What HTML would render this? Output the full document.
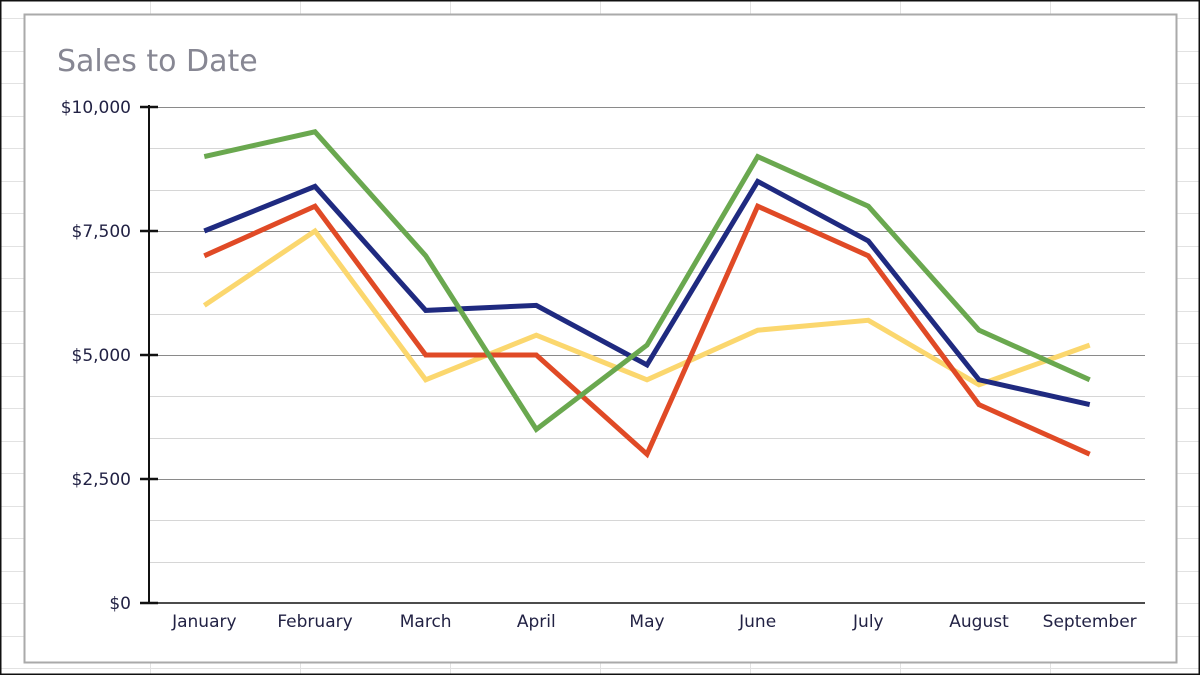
<!DOCTYPE html>
<html><head><meta charset="utf-8"><style>
html,body{margin:0;padding:0;background:#fff}
svg{display:block;font-family:"DejaVu Sans","Liberation Sans",sans-serif}
</style></head><body>
<svg id="s" width="1200" height="675" viewBox="0 0 1200 675" xmlns="http://www.w3.org/2000/svg">
<rect x="0" y="0" width="1200" height="675" fill="#fff"/>
<g id="bg" stroke="#e2e2e2" stroke-width="1"></g>
<rect x="0.5" y="0.5" width="1199" height="674" fill="none" stroke="#111" stroke-width="2"/>
<rect x="24.5" y="14.5" width="1152" height="648" fill="#fff" stroke="#aaa" stroke-width="2"/>
<text x="57" y="71" font-size="30" fill="#878793">Sales to Date</text>
<g id="grid"></g>
<g id="lines" fill="none" stroke-width="5" stroke-linejoin="miter"></g>
<g id="labels" font-size="17" fill="#222244"></g>
</svg>
<script>
var NS="http://www.w3.org/2000/svg";
function el(p,t,a,txt){var e=document.createElementNS(NS,t);for(var k in a)e.setAttribute(k,a[k]);if(txt)e.textContent=txt;p.appendChild(e);return e;}
var bg=document.getElementById('bg');
[150,300,450,600,750,900,1050].forEach(function(x){el(bg,'line',{x1:x+.5,y1:0,x2:x+.5,y2:675});});
for(var y=18;y<675;y+=32.5){el(bg,'line',{x1:0,y1:Math.round(y)+.5,x2:1200,y2:Math.round(y)+.5});}
var g=document.getElementById('grid'),L=document.getElementById('labels');
var X0=149,X1=1145,Y0=603,Ytop=107;
function Y(v){return Y0-(v/10000)*(Y0-Ytop);}
for(var k=1;k<=12;k++){var v=k*10000/12;var yy=Math.round(Y(v))+.5;el(g,'line',{x1:X0,y1:yy,x2:X1,y2:yy,stroke:(k%3==0)?'#8a8a8a':'#d6d6d6','stroke-width':1});}
el(g,'line',{x1:X0,y1:Ytop-2,x2:X0,y2:Y0+1,stroke:'#111','stroke-width':2});
el(g,'line',{x1:X0,y1:Y0,x2:X1,y2:Y0,stroke:'#111','stroke-width':1.5});
[0,2500,5000,7500,10000].forEach(function(v){var yy=Y(v);el(g,'line',{x1:140,y1:yy,x2:158,y2:yy,stroke:'#111','stroke-width':2.5});
el(L,'text',{x:131,y:yy+6,'text-anchor':'end'},'$'+v.toLocaleString('en-US'));});
var months=['January','February','March','April','May','June','July','August','September'];
var step=(X1-X0)/9;function X(i){return X0+step*(i+.5);}
months.forEach(function(m,i){el(L,'text',{x:X(i),y:627,'text-anchor':'middle'},m);});
var series=[
['#fbd76e',[6000,7500,4500,5400,4500,5500,5700,4400,5200]],
['#e04a26',[7000,8000,5000,5000,3000,8000,7000,4000,3000]],
['#1f2a80',[7500,8400,5900,6000,4800,8500,7300,4500,4000]],
['#6aa84f',[9000,9500,7000,3500,5200,9000,8000,5500,4500]]];
var ln=document.getElementById('lines');
series.forEach(function(s){el(ln,'polyline',{stroke:s[0],points:s[1].map(function(v,i){return X(i).toFixed(1)+','+Y(v).toFixed(1);}).join(' ')});});
</script>
</body></html>
